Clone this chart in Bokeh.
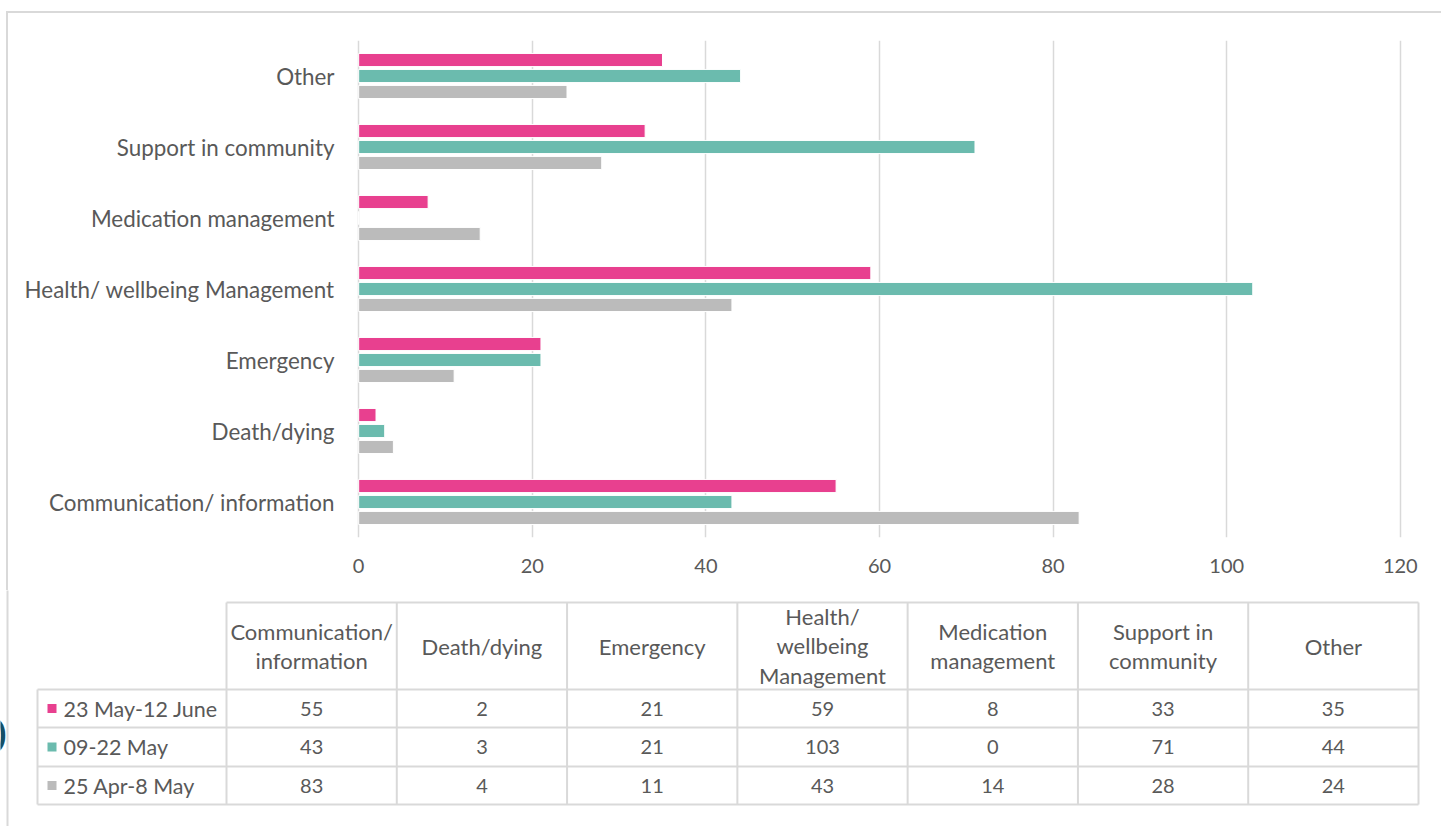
from bokeh.plotting import figure
from bokeh.models import FactorRange, Range1d, ColumnDataSource, FixedTicker
from bokeh.transform import dodge
from bokeh.layouts import column, row
from bokeh.embed import file_html
from bokeh.resources import INLINE
from bokeh.core.properties import value

# ---------------- data ----------------
categories = ["Communication/ information", "Death/dying", "Emergency",
              "Health/ wellbeing Management", "Medication management",
              "Support in community", "Other"]
header_labels = ["Communication/\ninformation", "Death/dying", "Emergency",
                 "Health/\nwellbeing\nManagement", "Medication\nmanagement",
                 "Support in\ncommunity", "Other"]
series_names = ["23 May-12 June", "09-22 May", "25 Apr-8 May"]
s_jun = [55, 2, 21, 59, 8, 33, 35]
s_may = [43, 3, 21, 103, 0, 71, 44]
s_apr = [83, 4, 11, 43, 14, 28, 24]
x_ticks = [0, 20, 40, 60, 80, 100, 120]

colors = ["#E8408F", "#6BBBAE", "#BBBBBB"]
series = [s_jun, s_may, s_apr]
FONT = "Lato"
TXT = "#595959"
GRID = "#d9d9d9"

# ---------------- chart ----------------
OX, OY = 8, 13   # where the bordered chart area starts on the page
PAD = 0.25       # small range padding so the 0 and 120 grid lines are fully drawn
p = figure(width=1441 - OX, height=590 - OY,
           y_range=FactorRange(*categories, range_padding=0),
           x_range=Range1d(-PAD, 120 + PAD), output_backend="svg", toolbar_location=None,
           min_border_left=356 - OX, min_border_right=39,
           min_border_top=40 - OY, min_border_bottom=53)
p.outline_line_color = None
p.ygrid.grid_line_color = None
p.xgrid.grid_line_color = GRID
p.xgrid.grid_line_width = 1.5
p.xaxis.ticker = FixedTicker(ticks=x_ticks)

src = ColumnDataSource(dict(cat=categories, s0=s_jun, s1=s_may, s2=s_apr))
offsets = [0.225, 0.0, -0.225]
for i in range(3):
    p.hbar(y=dodge("cat", offsets[i], range=p.y_range), right="s%d" % i, left=0,
           height=0.185, source=src, fill_color=colors[i], line_color="white",
           line_width=1)

for ax in (p.xaxis[0], p.yaxis[0]):
    ax.axis_line_color = None
    ax.major_tick_line_color = None
    ax.minor_tick_line_color = None
    ax.major_tick_out = 0
    ax.major_tick_in = 0
    ax.major_label_text_font = FONT
    ax.major_label_text_color = TXT
p.xaxis.major_label_text_font_size = "20px"
p.xaxis.major_label_standoff = 21
p.yaxis.major_label_text_font_size = "22.4px"
p.yaxis.major_label_standoff = 22

chart_box = row(p, margin=(11, 0, 0, 6),
                styles={"border-top": "2px solid #d9d9d9",
                        "border-left": "2px solid #d9d9d9"})

# ---------------- table ----------------
t = figure(width=1441, height=236, x_range=Range1d(0, 1441), y_range=Range1d(826, 590),
           output_backend="svg", toolbar_location=None, min_border=0)
t.outline_line_color = None
t.axis.visible = False
t.grid.visible = False

col_left = 226.0
col_right = 1418.0
n = len(categories)
cw = (col_right - col_left) / n
y_head_top, y_head_bot = 602, 689
row_bounds = [689, 727, 766, 804]
legend_left = 37

# outer frame continues on the left
t.segment(x0=[7], y0=[588], x1=[7], y1=[830], line_color=GRID, line_width=2)

# horizontal lines
hx0 = [col_left, legend_left, legend_left, legend_left, legend_left]
hy = [y_head_top] + row_bounds
t.segment(x0=hx0, y0=hy, x1=[col_right] * 5, y1=hy, line_color=GRID, line_width=2)
# vertical lines
vx = [col_left + i * cw for i in range(n + 1)]
t.segment(x0=vx, y0=[y_head_top] * len(vx), x1=vx, y1=[row_bounds[-1]] * len(vx),
          line_color=GRID, line_width=2)
t.segment(x0=[legend_left], y0=[row_bounds[0]], x1=[legend_left], y1=[row_bounds[-1]],
          line_color=GRID, line_width=2)

# header text
hcx = [col_left + (i + 0.5) * cw for i in range(n)]
t.text(x=hcx, y=[(y_head_top + y_head_bot) / 2] * n, text=header_labels,
       text_align="center", text_baseline="middle", text_font=value(FONT),
       text_font_size="22px", text_color=TXT, text_line_height=1.1)

# rows
for r in range(3):
    yc = (row_bounds[r] + row_bounds[r + 1]) / 2
    t.text(x=hcx, y=[yc] * n, text=[str(v) for v in series[r]],
           text_align="center", text_baseline="middle", text_font=value(FONT),
           text_font_size="20px", text_color=TXT)
    t.rect(x=[51.5], y=[yc], width=9, height=9, fill_color=colors[r], line_color=None)
    t.text(x=[63], y=[yc], text=[series_names[r]], text_align="left",
           text_baseline="middle", text_font=value(FONT), text_font_size="21.5px",
           text_color=TXT)

# stray partial glyph at the left edge (cut off in the original too)
t.text(x=[6], y=[735], text=["0"], text_align="right", text_baseline="middle",
       text_font=value(FONT), text_font_size="48px", text_color="#154f66")

layout = column(chart_box, row(t), spacing=0)
open("out.html", "w").write(file_html(layout, INLINE))
